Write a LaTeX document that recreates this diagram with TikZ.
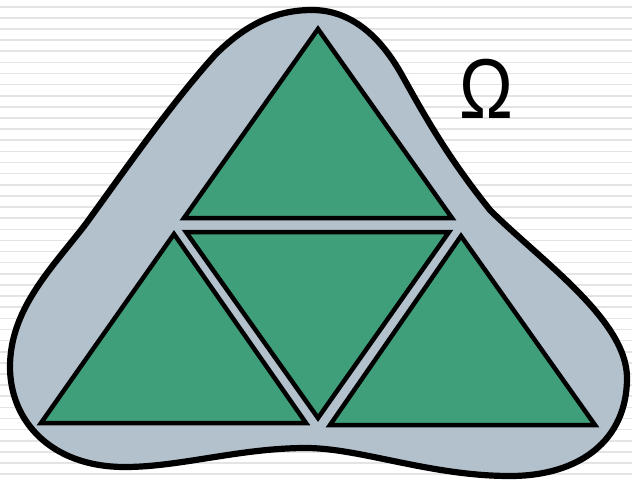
\documentclass[tikz,border=0pt]{standalone}
\usepackage{fontspec}
\setmainfont{Liberation Sans}
\usetikzlibrary{positioning}
\definecolor{domaingray}{HTML}{B3C1CC}
\definecolor{elemgreen}{HTML}{3F9F7A}
\definecolor{stripegray}{HTML}{E4E4E4}
\tikzset{
  x=0.02cm, y=-0.02cm, % pixel grid of the slide
  omegaregion/.style={fill=domaingray, draw=black, line width=6.2*0.02cm}, % the region Omega
  element/.style={fill=elemgreen, draw=black, line width=4.5*0.02cm, line join=miter}, % one triangle
  stripe/.style={stripegray, line width=1.6*0.02cm},
}

\begin{document}
\begin{tikzpicture}
    \useasboundingbox (0,0) rectangle (632,481);
    % background lines
    \foreach \y in {0,...,42} {
      \draw[stripe] (0,6.7+11.13*\y) -- (632,6.7+11.13*\y);
    }

    % the region
    \draw[omegaregion] (312,10) .. controls (350,10) and (380,35) .. (403,77)
      .. controls (428,122) and (450,160) .. (490,210)
      .. controls (540,260) and (627,320) .. (627,378)
      .. controls (627,440) and (580,476) .. (510,476)
      .. controls (430,476) and (360,448) .. (306,448)
      .. controls (240,448) and (180,467) .. (125,467)
      .. controls (50,467) and (10,420) .. (10,367)
      .. controls (10,310) and (50,270) .. (85,225)
      .. controls (125,170) and (170,105) .. (215,55)
      .. controls (245,25) and (275,10) .. (312,10) -- cycle;

    % the four elements
    \draw[element] (318,29) -- (452,218) -- (184,218) -- cycle;
    \draw[element] (186,232) -- (449,232) -- (318,418) -- cycle;
    \draw[element] (174,234) -- (306,423) -- (41,423) -- cycle;
    \draw[element] (461,236) -- (595,425) -- (330,425) -- cycle;

    \node[font=\fontsize{41}{41}\selectfont, inner sep=0pt] (omega) at (486,88.5) {\scalebox{1}[1.18]{Ω}};
\end{tikzpicture}
\end{document}
